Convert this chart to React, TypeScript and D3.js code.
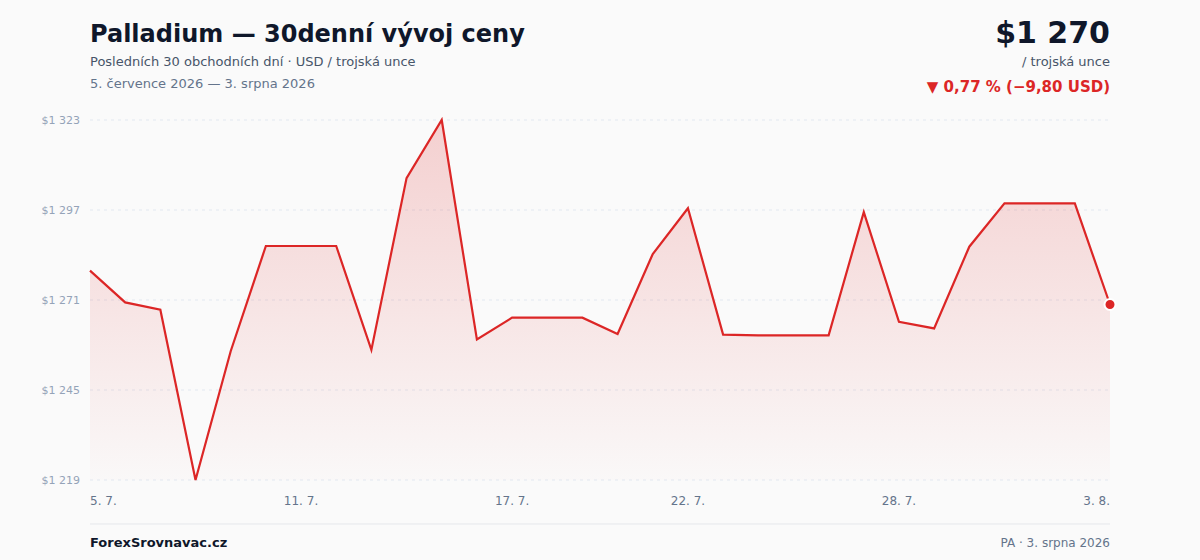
import { useEffect } from "react"
import * as d3 from "d3"

// Palladium, USD per troy ounce, 5. 7. – 3. 8. 2026
const DATES = [
  "2026-07-05", "2026-07-06", "2026-07-07", "2026-07-08", "2026-07-09", "2026-07-10",
  "2026-07-11", "2026-07-12", "2026-07-13", "2026-07-14", "2026-07-15", "2026-07-16",
  "2026-07-17", "2026-07-18", "2026-07-19", "2026-07-20", "2026-07-21", "2026-07-22",
  "2026-07-23", "2026-07-24", "2026-07-25", "2026-07-26", "2026-07-27", "2026-07-28",
  "2026-07-29", "2026-07-30", "2026-07-31", "2026-08-01", "2026-08-02", "2026-08-03",
]
const PRICES = [
  1279.5, 1270.3, 1268.2, 1219.0, 1256.2, 1286.6,
  1286.6, 1286.6, 1256.6, 1306.2, 1323.0, 1259.6,
  1265.9, 1265.9, 1265.9, 1261.2, 1284.3, 1297.5,
  1261.0, 1260.8, 1260.8, 1260.8, 1296.4, 1264.7,
  1262.8, 1286.4, 1298.9, 1298.9, 1298.9, 1269.7,
]
const Y_TICKS = [1219, 1245, 1271, 1297, 1323]
const X_TICKS = ["2026-07-05", "2026-07-11", "2026-07-17", "2026-07-22", "2026-07-28", "2026-08-03"]

const W = 1200
const H = 560
const LEFT = 90
const RIGHT = 1110
const TOP = 120
const BOTTOM = 480
const RED = "#dc2626"
const FONT = "'DejaVu Sans', sans-serif"

const fmtThousands = (v: number) => {
  const s = Math.round(v).toString()
  return s.replace(/\B(?=(\d{3})+(?!\d))/g, " ")
}
const fmtDay = (d: string) => {
  const dt = new Date(d + "T00:00:00")
  return `${dt.getDate()}. ${dt.getMonth() + 1}.`
}

export default function App() {
  useEffect(() => {
    document.body.style.margin = "0"
    document.body.style.background = "#fafafa"
  }, [])

  const x = d3.scalePoint<string>().domain(DATES).range([LEFT, RIGHT])
  const y = d3.scaleLinear().domain([d3.min(PRICES)!, d3.max(PRICES)!]).range([BOTTOM, TOP])

  const data = DATES.map((d, i) => ({ d, v: PRICES[i] }))
  const line = d3.line<{ d: string; v: number }>().x(p => x(p.d)!).y(p => y(p.v))
  const area = d3.area<{ d: string; v: number }>().x(p => x(p.d)!).y0(BOTTOM).y1(p => y(p.v))

  const first = PRICES[0]
  const last = PRICES[PRICES.length - 1]
  const diff = last - first
  const pct = (diff / first) * 100
  const fmtComma = (v: number) => Math.abs(v).toFixed(2).replace(".", ",")
  const changeText = `${diff < 0 ? "▼" : "▲"} ${fmtComma(pct)} % (${diff < 0 ? "−" : "+"}${fmtComma(diff)} USD)`

  return (
    <svg width={W} height={H} style={{ display: "block", background: "#fafafa", fontFamily: FONT }}>
      <defs>
        <linearGradient id="fill" x1="0" y1="0" x2="0" y2="1">
          <stop offset="0%" stopColor={RED} stopOpacity={0.2} />
          <stop offset="100%" stopColor={RED} stopOpacity={0.01} />
        </linearGradient>
      </defs>

      {/* Header */}
      <text x={LEFT} y={42} fontSize={24} fontWeight="bold" fill="#0f172a">Palladium — 30denní vývoj ceny</text>
      <text x={LEFT} y={66} fontSize={13} fill="#475569">Posledních 30 obchodních dní · USD / trojská unce</text>
      <text x={LEFT} y={88} fontSize={13} fill="#64748b">5. července 2026 — 3. srpna 2026</text>

      <text x={RIGHT} y={43} fontSize={30} fontWeight="bold" fill="#0f172a" textAnchor="end">${fmtThousands(last)}</text>
      <text x={RIGHT} y={66} fontSize={13} fill="#475569" textAnchor="end">/ trojská unce</text>
      <text x={RIGHT} y={92} fontSize={15} fontWeight="bold" fill={RED} textAnchor="end">{changeText}</text>

      {/* Grid + y labels */}
      {Y_TICKS.map(t => (
        <g key={t}>
          <line x1={LEFT} x2={RIGHT} y1={y(t)} y2={y(t)} stroke="#e2e8f0" strokeDasharray="3,4" />
          <text x={80} y={y(t)} dy="0.35em" fontSize={11} fill="#94a3b8" textAnchor="end">${fmtThousands(t)}</text>
        </g>
      ))}

      {/* Area + line */}
      <path d={area(data)!} fill="url(#fill)" />
      <path d={line(data)!} fill="none" stroke={RED} strokeWidth={2.2} strokeLinejoin="miter" />
      <circle cx={x(DATES[DATES.length - 1])} cy={y(last)} r={5.5} fill={RED} stroke="#ffffff" strokeWidth={2} />

      {/* X labels */}
      {X_TICKS.map((t, i) => (
        <text key={t} x={x(t)} y={505} fontSize={12} fill="#64748b"
          textAnchor={i === 0 ? "start" : i === X_TICKS.length - 1 ? "end" : "middle"}>
          {fmtDay(t)}
        </text>
      ))}

      {/* Footer */}
      <line x1={LEFT} x2={RIGHT} y1={524} y2={524} stroke="#e5e7eb" />
      <text x={LEFT} y={547} fontSize={13} fontWeight="bold" fill="#0f172a">ForexSrovnavac.cz</text>
      <text x={RIGHT} y={547} fontSize={12} fill="#64748b" textAnchor="end">PA · 3. srpna 2026</text>
    </svg>
  )
}
